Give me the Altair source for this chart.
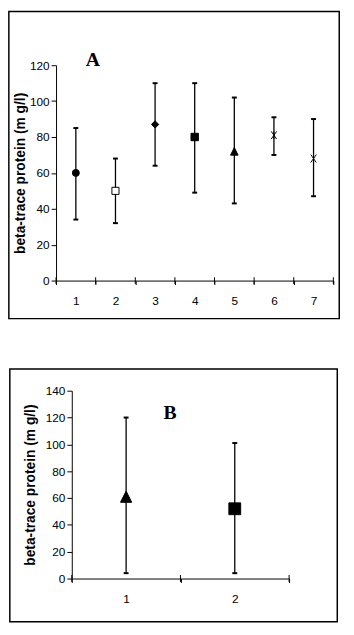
import altair as alt
import pandas as pd

# ---- data ----
groups_a = [1, 2, 3, 4, 5, 6, 7]
mean_a = [60, 50, 87, 80, 72, 81, 68]
low_a = [34, 32, 64, 49, 43, 70, 47]
high_a = [85, 68, 110, 110, 102, 91, 90]

groups_b = [1, 2]
mean_b = [61, 52]
low_b = [4, 4]
high_b = [120, 101]

x_ticks_a = [0.5, 1.5, 2.5, 3.5, 4.5, 5.5, 6.5, 7.5]
x_ticks_b = [0.5, 1.5, 2.5]
y_ticks_a = [0, 20, 40, 60, 80, 100, 120]
y_ticks_b = [0, 20, 40, 60, 80, 100, 120, 140]

# ---- marker styles ----
TRI = "M0,-1L1,1L-1,1Z"
XSH = "M-0.7,-1L0.7,1M-0.7,1L0.7,-1"
AST = "M-0.7,-1L0.7,1M-0.7,1L0.7,-1M0,-1L0,1"
shapes_a = ["circle", "square", "diamond", "square", TRI, AST, XSH]
fills_a = ["black", "white", "black", "black", "black", "transparent", "transparent"]
sizes_a = [50, 64, 85, 92, 95, 100, 100]
shapes_b = [TRI, "square"]
fills_b = ["black", "black"]
sizes_b = [130, 144]

LABEL_FONT = "Liberation Sans Narrow, Arial Narrow, Liberation Sans, sans-serif"
TITLE_FONT = "Liberation Sans, Arial, sans-serif"
SERIF = "Liberation Serif, Times New Roman, serif"
YTITLE = "beta-trace protein (m g/l)"


def panel(groups, mean, low, high, xt, yt, ymax, w, h, shift, shapes, fills, sizes,
          letter, letter_xy, frame, title_pad):
    df = pd.DataFrame({"g": groups, "mean": mean, "low": low, "high": high})
    n = len(groups)
    band = (w - shift) / n
    xscale = alt.Scale(domain=[0.5, n + 0.5], nice=False, zero=False,
                       range=[shift, w])
    yscale = alt.Scale(domain=[0, ymax], nice=False)
    xaxis = alt.Axis(values=xt, title=None, grid=False, tickSize=4,
                     labelExpr=f"datum.value < {n} ? format(datum.value + 0.5, 'd') : ''",
                     labelOffset=band / 2, labelPadding=11, labelOverlap=False,
                     labelFlush=False, labelBound=False)
    yaxis = alt.Axis(values=yt, title=YTITLE, grid=False, tickSize=5,
                     labelPadding=2, titlePadding=title_pad, offset=-shift,
                     labelOverlap=False)
    base = alt.Chart(df)
    x = alt.X("g:Q", scale=xscale, axis=xaxis)
    rules = base.mark_rule(color="black", strokeWidth=1.3).encode(
        x=x, y=alt.Y("low:Q", scale=yscale, axis=yaxis), y2="high:Q")
    caps = base.transform_fold(["low", "high"], as_=["end", "v"]).mark_tick(
        orient="horizontal", size=5, thickness=2, color="black", opacity=1
    ).encode(x=x, y=alt.Y("v:Q", scale=yscale, axis=yaxis))
    # category tick marks crossing the x axis (Excel style)
    cross = alt.Chart(pd.DataFrame({"t": xt})).mark_tick(
        orient="vertical", size=7, thickness=1, color="black", opacity=1
    ).encode(x=alt.X("t:Q", scale=xscale, axis=xaxis),
             y=alt.YDatum(0, scale=yscale, axis=yaxis))
    dom = groups
    pts = base.mark_point(stroke="black", strokeWidth=1, opacity=1, fillOpacity=1).encode(
        x=x, y=alt.Y("mean:Q", scale=yscale, axis=yaxis),
        shape=alt.Shape("g:N", scale=alt.Scale(domain=dom, range=shapes), legend=None),
        fill=alt.Fill("g:N", scale=alt.Scale(domain=dom, range=fills), legend=None),
        size=alt.Size("g:N", scale=alt.Scale(domain=dom, range=sizes), legend=None),
    )
    lab = alt.Chart(pd.DataFrame({"t": [letter]})).mark_text(
        font=SERIF, fontSize=20, fontWeight="bold", color="black",
        align="center", baseline="middle"
    ).encode(text="t:N", x=alt.value(letter_xy[0]), y=alt.value(letter_xy[1]))
    fl, fr, ft, fb = frame
    box = alt.Chart(pd.DataFrame({"k": [0]})).mark_rect(
        filled=False, stroke="black", strokeWidth=1.5
    ).encode(x=alt.value(fl), x2=alt.value(fr), y=alt.value(ft), y2=alt.value(fb))
    return alt.layer(box, rules, caps, cross, pts, lab).properties(width=w, height=h)


# panel A: plot area 282 x 219; panel B: plot area 221 x 191, drawn 16 px to the right
WA, HA = 282, 219
WB, HB, SB = 237, 191, 16
top = panel(groups_a, mean_a, low_a, high_a, x_ticks_a, y_ticks_a, 120, WA, HA, 0,
            shapes_a, fills_a, sizes_a, "A", (37.5, -5),
            (-48, WA + 6, -54.7, HA + 38.7), 2)
bot = panel(groups_b, mean_b, low_b, high_b, x_ticks_b, y_ticks_b, 140, WB, HB, SB,
            shapes_b, fills_b, sizes_b, "B", (SB + 100, 23),
            (SB - 63, WB + 49, -22, HB + 44), 8)

chart = alt.vconcat(top, bot, spacing=48).resolve_scale(
    shape="independent", fill="independent", size="independent"
).properties(
    padding={"left": 7, "top": 5, "right": 0, "bottom": 0},
    background="white",
).configure_view(stroke="transparent").configure_axis(
    domainColor="black", domainWidth=1, tickColor="black", tickWidth=1,
    labelColor="black", labelFont=LABEL_FONT, labelFontSize=12,
    titleColor="black", titleFont=TITLE_FONT, titleFontSize=14, titleFontWeight="bold",
)

chart.save("out.html", embed_options={"renderer": "svg", "actions": False})
